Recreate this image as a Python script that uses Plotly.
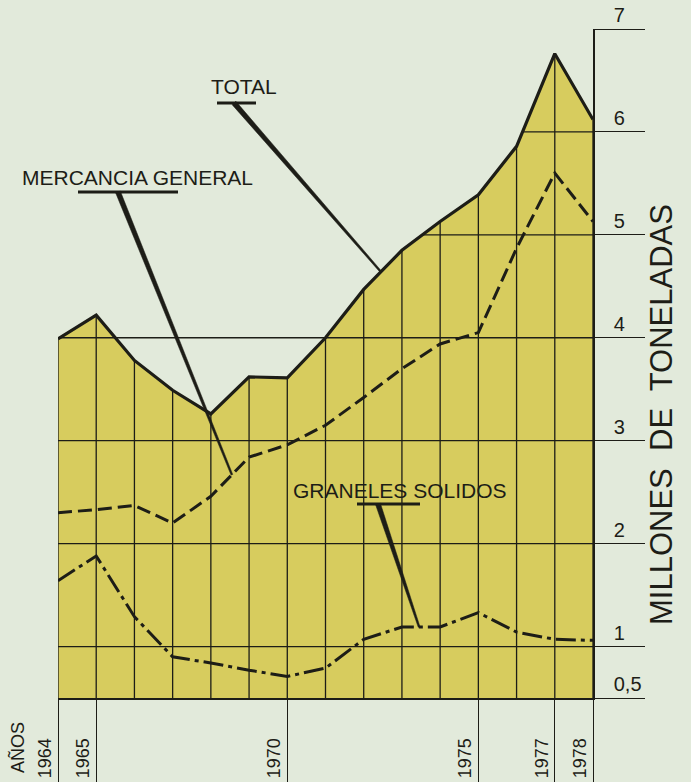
import numpy as np
import plotly.graph_objects as go

# ---------------- data ----------------
years = list(range(1964, 1979))
total = [3.99, 4.22, 3.78, 3.49, 3.26, 3.62, 3.61, 4.00, 4.47, 4.85, 5.13, 5.39, 5.86, 6.76, 6.12]
mercancia = [2.30, 2.33, 2.37, 2.20, 2.46, 2.84, 2.96, 3.15, 3.42, 3.70, 3.94, 4.05, 4.87, 5.60, 5.13]
graneles = [1.64, 1.88, 1.29, 0.90, 0.84, 0.77, 0.71, 0.79, 1.07, 1.19, 1.19, 1.33, 1.14, 1.07, 1.06]
year_ticks = [1964, 1965, 1970, 1975, 1977, 1978]
year_tick_text = ["1964", "1965", "1970", "1975", "1977", "1978"]
y_ticks = [0.5, 1, 2, 3, 4, 5, 6, 7]
y_tick_text = ["0,5", "1", "2", "3", "4", "5", "6", "7"]
grid_full = [1, 2, 3, 4]
grid_inside = [5, 6]

# ---------------- layout constants ----------------
W, H = 691, 782
ML, MR, MT, MB = 58, 98, 29, 84
X0, X1 = 1964, 1978
Y0, Y1 = 0.5, 7
SX = (W - ML - MR) / (X1 - X0)
SY = (H - MT - MB) / (Y1 - Y0)

BG = "#e2eadb"
FILL = "#d7cc5e"
INK = "#1d1d17"
FONT = "Liberation Sans"


def dx(px):
    return X0 + (px - ML) / SX


def dy(py):
    return Y0 + (H - MB - py) / SY


def to_px(x, y):
    return ML + (x - X0) * SX, H - MB - (y - Y0) * SY


fig = go.Figure()

# filled area under the total
fig.add_trace(go.Scatter(x=years, y=total, mode="lines", line=dict(width=0),
                         fill="tozeroy", fillcolor=FILL, hoverinfo="skip", showlegend=False))

# horizontal grid lines (1-4 across, 5-6 only inside the filled area)
gx, gy = [], []
for lv in grid_full:
    gx += [X0, X1, None]
    gy += [lv, lv, None]
t = np.array(total)
yr = np.array(years, dtype=float)
for lv in grid_inside:
    start = None
    for i in range(len(yr)):
        if t[i] >= lv and start is None:
            if i == 0:
                start = yr[0]
            else:
                start = yr[i - 1] + (lv - t[i - 1]) / (t[i] - t[i - 1])
        if start is not None and (i == len(yr) - 1 or t[i + 1] < lv):
            if i == len(yr) - 1:
                end = yr[i]
            else:
                end = yr[i] + (lv - t[i]) / (t[i + 1] - t[i])
            gx += [start, end, None]
            gy += [lv, lv, None]
            start = None
fig.add_trace(go.Scatter(x=gx, y=gy, mode="lines", line=dict(color=INK, width=1.3),
                         hoverinfo="skip", showlegend=False))

# vertical year lines from the base up to the total
vx, vy = [], []
for xv, tv in zip(years, total):
    vx += [xv, xv, None]
    vy += [Y0, tv, None]
fig.add_trace(go.Scatter(x=vx, y=vy, mode="lines", line=dict(color=INK, width=1.3),
                         hoverinfo="skip", showlegend=False))

# series
fig.add_trace(go.Scatter(x=years, y=total, mode="lines", name="TOTAL",
                         line=dict(color=INK, width=3.2), showlegend=False))
fig.add_trace(go.Scatter(x=years, y=mercancia, mode="lines", name="MERCANCIA GENERAL",
                         line=dict(color=INK, width=3, dash="14px,6px"), showlegend=False))
fig.add_trace(go.Scatter(x=years, y=graneles, mode="lines", name="GRANELES SOLIDOS",
                         line=dict(color=INK, width=3, dash="20px,5px,4px,5px"), showlegend=False))

shapes = []
annotations = []


def label(text, cx, cy, bar_x0, bar_x1, bar_y, lead_px, x_end, series):
    annotations.append(dict(x=dx(cx), y=dy(cy), xref="x", yref="y", text=text, showarrow=False,
                            font=dict(family=FONT, size=21, color=INK), xanchor="center", yanchor="middle"))
    shapes.append(dict(type="line", xref="x", yref="y", x0=dx(bar_x0), x1=dx(bar_x1),
                       y0=dy(bar_y), y1=dy(bar_y), line=dict(color=INK, width=3)))
    # tapered leader line ending on the series
    ye = float(np.interp(x_end, years, series))
    p0 = np.array([lead_px, bar_y])
    p1 = np.array(to_px(x_end, ye))
    d = p1 - p0
    d = d / np.hypot(*d)
    n = np.array([-d[1], d[0]])
    w0, w1 = 5.0, 1.8
    pts = [p0 + n * w0 / 2, p1 + n * w1 / 2, p1 - n * w1 / 2, p0 - n * w0 / 2]
    path = "M " + " L ".join(f"{dx(p[0])},{dy(p[1])}" for p in pts) + " Z"
    shapes.append(dict(type="path", xref="x", yref="y", path=path,
                       fillcolor=INK, line=dict(color=INK, width=0.5)))


label("TOTAL", 244, 86, 217, 256, 103, 234, 1972.45, total)
label("MERCANCIA GENERAL", 137, 177, 78, 178, 192, 118, 1968.55, mercancia)
label("GRANELES SOLIDOS", 400, 490, 357, 420, 504, 378, 1973.45, graneles)

PW, PH = W - ML - MR, H - MT - MB
annotations.append(dict(x=(17 - ML) / PW, y=(H - MB - 748) / PH,
                        xref="paper", yref="paper", text="AÑOS", textangle=-90, showarrow=False,
                        xanchor="center", yanchor="middle",
                        font=dict(family=FONT, size=18, color=INK)))
annotations.append(dict(x=(661 - ML) / PW, y=(H - MB - 415) / PH,
                        xref="paper", yref="paper", text="MILLONES  DE  TONELADAS", textangle=-90,
                        xanchor="center", yanchor="middle",
                        showarrow=False, font=dict(family=FONT, size=31, color=INK)))

fig.update_layout(
    width=W, height=H,
    margin=dict(l=ML, r=MR, t=MT, b=MB, pad=0),
    paper_bgcolor=BG, plot_bgcolor=BG,
    shapes=shapes, annotations=annotations,
    xaxis=dict(range=[X0, X1], showgrid=False, zeroline=False, showline=True, linecolor=INK,
               linewidth=2.2, ticks="outside", ticklen=84, tickwidth=1.3, tickcolor=INK,
               tickvals=year_ticks, ticktext=year_tick_text, tickangle=-90,
               tickfont=dict(family=FONT, size=18, color=INK),
               ticklabelstandoff=-53, ticklabelshift=-13, fixedrange=True, automargin=False),
    yaxis=dict(range=[Y0, Y1], side="right", showgrid=False, zeroline=False, showline=True,
               linecolor=INK, linewidth=1.5, ticks="outside", ticklen=50, tickwidth=1.3,
               tickcolor=INK, tickvals=y_ticks, ticktext=y_tick_text,
               tickfont=dict(family=FONT, size=20, color=INK),
               ticklabelstandoff=-35, ticklabelshift=-14, fixedrange=True, automargin=False),
)

post = (
    "var s=document.body.style;s.margin='0';s.padding='0';"
    "s.background='" + BG + "';"
    "document.documentElement.style.background='" + BG + "';"
)
fig.write_html("out.html", config={"displayModeBar": False}, post_script=post)
